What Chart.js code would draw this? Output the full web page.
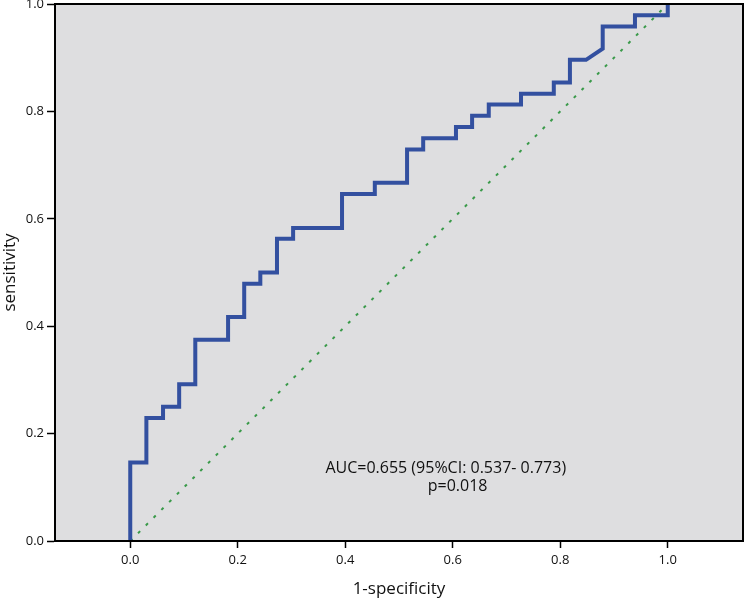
<!DOCTYPE html>
<html>
<head>
<meta charset="utf-8">
<script src="https://cdn.jsdelivr.net/npm/chart.js@4/dist/chart.umd.min.js"></script>
<style>
html,body{margin:0;padding:0;background:#fff;}
#wrap{width:744px;height:599px;position:relative;}
</style>
</head>
<body>
<div id="wrap"><canvas id="c" width="744" height="599"></canvas></div>
<script>
// ROC curve corner points (1-specificity, sensitivity)
const fpr = [0.000,0.000,0.030,0.030,0.061,0.061,0.091,0.091,0.121,0.121,0.182,0.182,0.212,0.212,0.242,0.242,0.273,0.273,0.303,0.303,0.394,0.394,0.455,0.455,0.515,0.515,0.545,0.545,0.606,0.606,0.636,0.636,0.667,0.667,0.727,0.727,0.788,0.788,0.818,0.818,0.848,0.879,0.879,0.939,0.939,1.000,1.000];
const tpr = [0.000,0.146,0.146,0.229,0.229,0.250,0.250,0.292,0.292,0.375,0.375,0.417,0.417,0.479,0.479,0.500,0.500,0.563,0.563,0.583,0.583,0.646,0.646,0.667,0.667,0.729,0.729,0.750,0.750,0.771,0.771,0.792,0.792,0.813,0.813,0.833,0.833,0.854,0.854,0.896,0.896,0.917,0.958,0.958,0.979,0.979,1.000];
// reference diagonal
const refX = [0, 1];
const refY = [0, 1];
const xTicks = [0.0, 0.2, 0.4, 0.6, 0.8, 1.0];
const yTicks = [0.0, 0.2, 0.4, 0.6, 0.8, 1.0];
const xTitle = '1-specificity';
const yTitle = 'sensitivity';
const annoLines = ['AUC=0.655 (95%CI: 0.537- 0.773)', 'p=0.018'];

const FONT = "'Open Sans', 'Liberation Sans', sans-serif";

const bgPlugin = {
  id: 'bg',
  beforeDraw(chart) {
    const {ctx, chartArea: a} = chart;
    ctx.save();
    ctx.fillStyle = '#dedee0';
    ctx.fillRect(a.left, a.top, a.right - a.left, a.bottom - a.top);
    ctx.restore();
  },
  afterDraw(chart) {
    const {ctx, chartArea: a, scales} = chart;
    ctx.save();
    ctx.strokeStyle = '#000';
    ctx.lineWidth = 2;
    ctx.strokeRect(a.left, a.top, a.right - a.left, a.bottom - a.top);
    // annotation
    ctx.fillStyle = '#111';
    ctx.font = '16px ' + FONT;
    ctx.textAlign = 'center';
    ctx.textBaseline = 'middle';
    ctx.fillText(annoLines[0], scales.x.getPixelForValue(0.587), scales.y.getPixelForValue(0.136));
    ctx.fillText(annoLines[1], scales.x.getPixelForValue(0.609), scales.y.getPixelForValue(0.102));
    ctx.restore();
  }
};

new Chart(document.getElementById('c'), {
  type: 'line',
  data: {
    datasets: [
      {
        data: refX.map((x, i) => ({x, y: refY[i]})),
        borderColor: '#3a9a4a',
        borderWidth: 2,
        borderDash: [3, 8],
        pointRadius: 0,
        fill: false,
        order: 2
      },
      {
        data: fpr.map((x, i) => ({x, y: tpr[i]})),
        borderColor: '#3350a0',
        borderWidth: 4,
        pointRadius: 0,
        fill: false,
        tension: 0,
        borderJoinStyle: 'miter',
        borderCapStyle: 'butt',
        order: 1
      }
    ]
  },
  options: {
    responsive: false,
    devicePixelRatio: 1,
    animation: false,
    layout: {padding: {top: 4, right: 1, left: 0, bottom: 0}},
    plugins: {legend: {display: false}, tooltip: {enabled: false}},
    scales: {
      x: {
        type: 'linear',
        min: -0.14,
        max: 1.14,
        afterFit(s) { s.height = 58; s.paddingLeft = 0; s.paddingRight = 0; },
        afterBuildTicks(s) { s.ticks = xTicks.map(v => ({value: v})); },
        grid: {drawOnChartArea: false, drawTicks: true, tickLength: 7, tickColor: '#000', tickWidth: 1.5},
        border: {display: true, color: '#000', width: 2},
        ticks: {
          padding: 4,
          color: '#111',
          font: {size: 13, family: FONT},
          maxRotation: 0,
          callback: v => v.toFixed(1)
        },
        title: {display: true, text: xTitle, color: '#111', font: {size: 17, family: FONT}, padding: {top: 0, bottom: 0}}
      },
      y: {
        type: 'linear',
        min: 0,
        max: 1,
        afterFit(s) { s.width = 55; s.paddingTop = 0; s.paddingBottom = 0; },
        afterBuildTicks(s) { s.ticks = yTicks.map(v => ({value: v})); },
        grid: {drawOnChartArea: false, drawTicks: true, tickLength: 8, tickColor: '#000', tickWidth: 1.5},
        border: {display: true, color: '#000', width: 2},
        ticks: {
          padding: 3,
          color: '#111',
          font: {size: 13, family: FONT},
          callback: v => v.toFixed(1)
        },
        title: {display: true, text: yTitle, color: '#111', font: {size: 17, family: FONT}, padding: {top: 0, bottom: 0}}
      }
    }
  },
  plugins: [bgPlugin]
});
</script>
</body>
</html>
